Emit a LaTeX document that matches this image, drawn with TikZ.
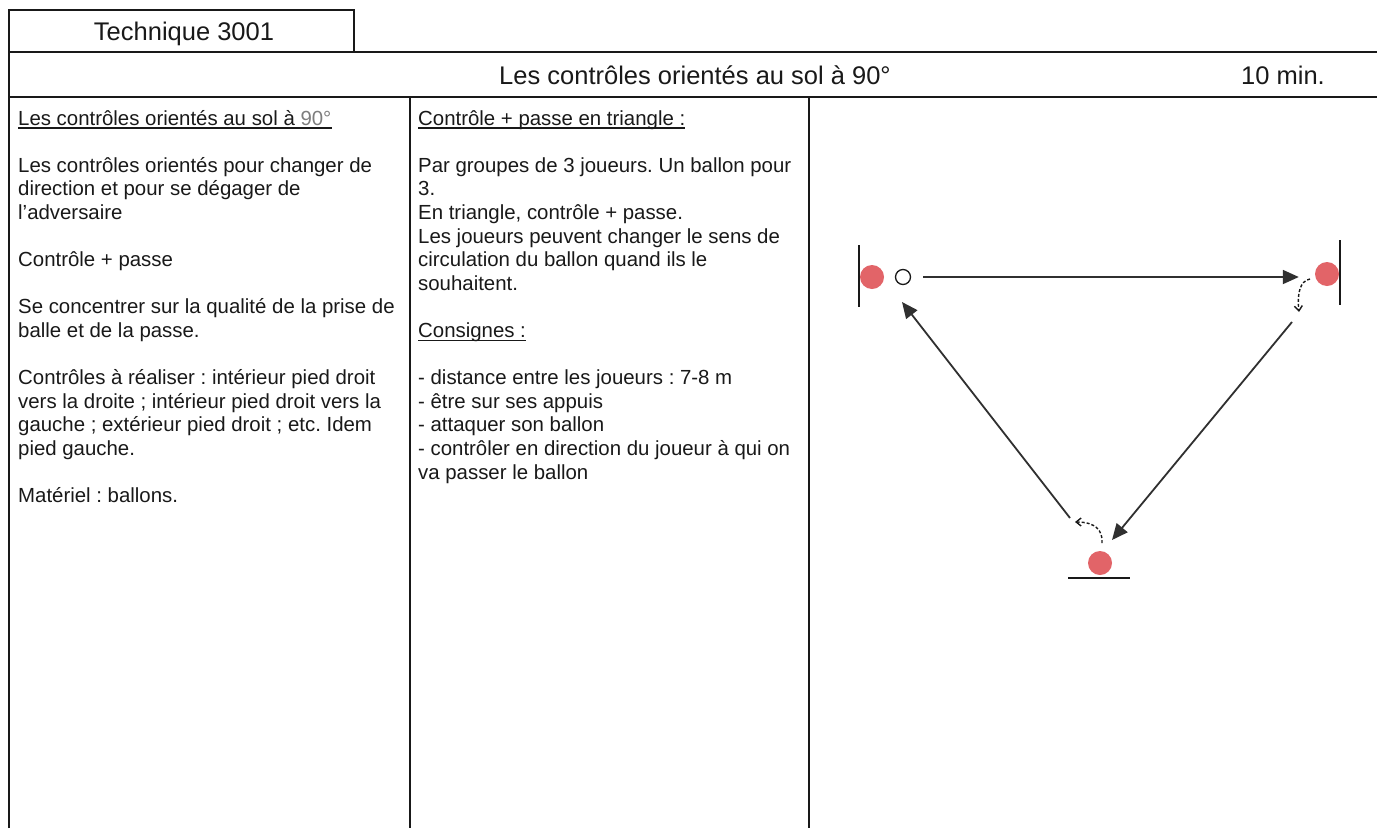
\documentclass[tikz,border=0pt]{standalone}
\usepackage{fontspec}
\setmainfont{Liberation Sans}
\usetikzlibrary{arrows.meta}
\definecolor{ink}{RGB}{25,25,25}
\definecolor{pred}{RGB}{226,100,104}
\definecolor{lgray}{RGB}{125,125,125}
\frenchspacing
\begin{document}
\begin{tikzpicture}[x=1pt,y=-1pt,
 frame/.style={line width=1.8pt, draw=ink},
 body/.style={anchor=base west, inner sep=0pt, font=\fontsize{20.4}{23.6}\selectfont, text=ink},
 head/.style={anchor=base, inner sep=0pt, font=\fontsize{25.5}{30}\selectfont, text=ink},
 uline/.style={line width=1.2pt, draw=ink},
 player/.style={circle, fill=pred, minimum size=24pt, inner sep=0pt},
 ballst/.style={circle, draw=ink, fill=white, line width=1.3pt, minimum size=15pt, inner sep=0pt},
 pass/.style={line width=1.8pt, draw=ink!90, -{Triangle[length=16pt,width=14pt]}},
 move/.style={line width=1.4pt, draw=ink, dash pattern=on 3pt off 2pt, -{Straight Barb[length=5pt,width=8pt]}},
 sideline/.style={line width=1.8pt, draw=ink}
]
\useasboundingbox (0,0) rectangle (1377,828);
\fill[white] (0,0) rectangle (1377,828);

% frame
\draw[frame] (9,828) -- (9,10) -- (354,10) -- (354,52);
\draw[frame] (9,52) -- (1377,52);
\draw[frame] (9,97) -- (1377,97);
\draw[frame] (410,97) -- (410,828);
\draw[frame] (809,97) -- (809,828);

% headers
\node[head] (tech) at (184,40) {Technique 3001};
\node[head] (title) at (695,84) {Les contrôles orientés au sol à 90°};
\node[head] (dur) at (1283,84) {10 min.};

% left column
\node[body] (a0) at (18,125) {Les contrôles orientés au sol à \textcolor{lgray}{90°}};
\draw[uline] ([yshift=-3pt]a0.base west) -- ([yshift=-3pt]a0.base east);
\foreach \n/\t in {
 2/{Les contrôles orientés pour changer de},
 3/{direction et pour se dégager de},
 4/{l’adversaire},
 6/{Contrôle + passe},
 8/{Se concentrer sur la qualité de la prise de},
 9/{balle et de la passe.},
 11/{Contrôles à réaliser : intérieur pied droit},
 12/{vers la droite ; intérieur pied droit vers la},
 13/{gauche ; extérieur pied droit ; etc. Idem},
 14/{pied gauche.},
 16/{Matériel : ballons.}}
 \node[body] (a\n) at (18,{125+\n*23.6}) {\t};

% middle column
\node[body] (b0) at (418,125) {Contrôle + passe en triangle :};
\draw[uline] ([yshift=-3pt]b0.base west) -- ([yshift=-3pt]b0.base east);
\node[body] (b9) at (418,{125+9*23.6}) {Consignes :};
\draw[uline] ([yshift=-3pt]b9.base west) -- ([yshift=-3pt]b9.base east);
\foreach \n/\t in {
 2/{Par groupes de 3 joueurs. Un ballon pour},
 3/{3.},
 4/{En triangle, contrôle + passe.},
 5/{Les joueurs peuvent changer le sens de},
 6/{circulation du ballon quand ils le},
 7/{souhaitent.},
 11/{- distance entre les joueurs : 7-8 m},
 12/{- être sur ses appuis},
 13/{- attaquer son ballon},
 14/{- contrôler en direction du joueur à qui on},
 15/{va passer le ballon}}
 \node[body] (b\n) at (418,{125+\n*23.6}) {\t};

% diagram
\draw[sideline] (859,245) -- (859,307);
\draw[sideline] (1340,240) -- (1340,305);
\draw[sideline] (1068,578) -- (1130,578);

\node[player] (pL) at (872,277) {};
\node[player] (pR) at (1327,274) {};
\node[player] (pB) at (1100,563) {};
\node[ballst] (ball) at (903,277) {};

\draw[pass, shorten <=12pt, shorten >=16pt] (ball.east) -- (ball.east -| pR.west);

\coordinate (d1s) at (1292,322);
\coordinate (d1e) at (1112,540);
\coordinate (d2s) at (1070,518);
\coordinate (d2e) at (902,302);
\draw[pass] (d1s) -- (d1e);
\draw[pass] (d2s) -- (d2e);

\coordinate (mR1) at (1310,279);
\coordinate (mR2) at (1299,312);
\draw[move] (mR1) .. controls (1300,281) and (1297,293) .. (mR2);
\coordinate (mB1) at (1102,543);
\coordinate (mB2) at (1075,522);
\draw[move] (mB1) .. controls (1103,530) and (1095,522) .. (mB2);
\end{tikzpicture}
\end{document}
